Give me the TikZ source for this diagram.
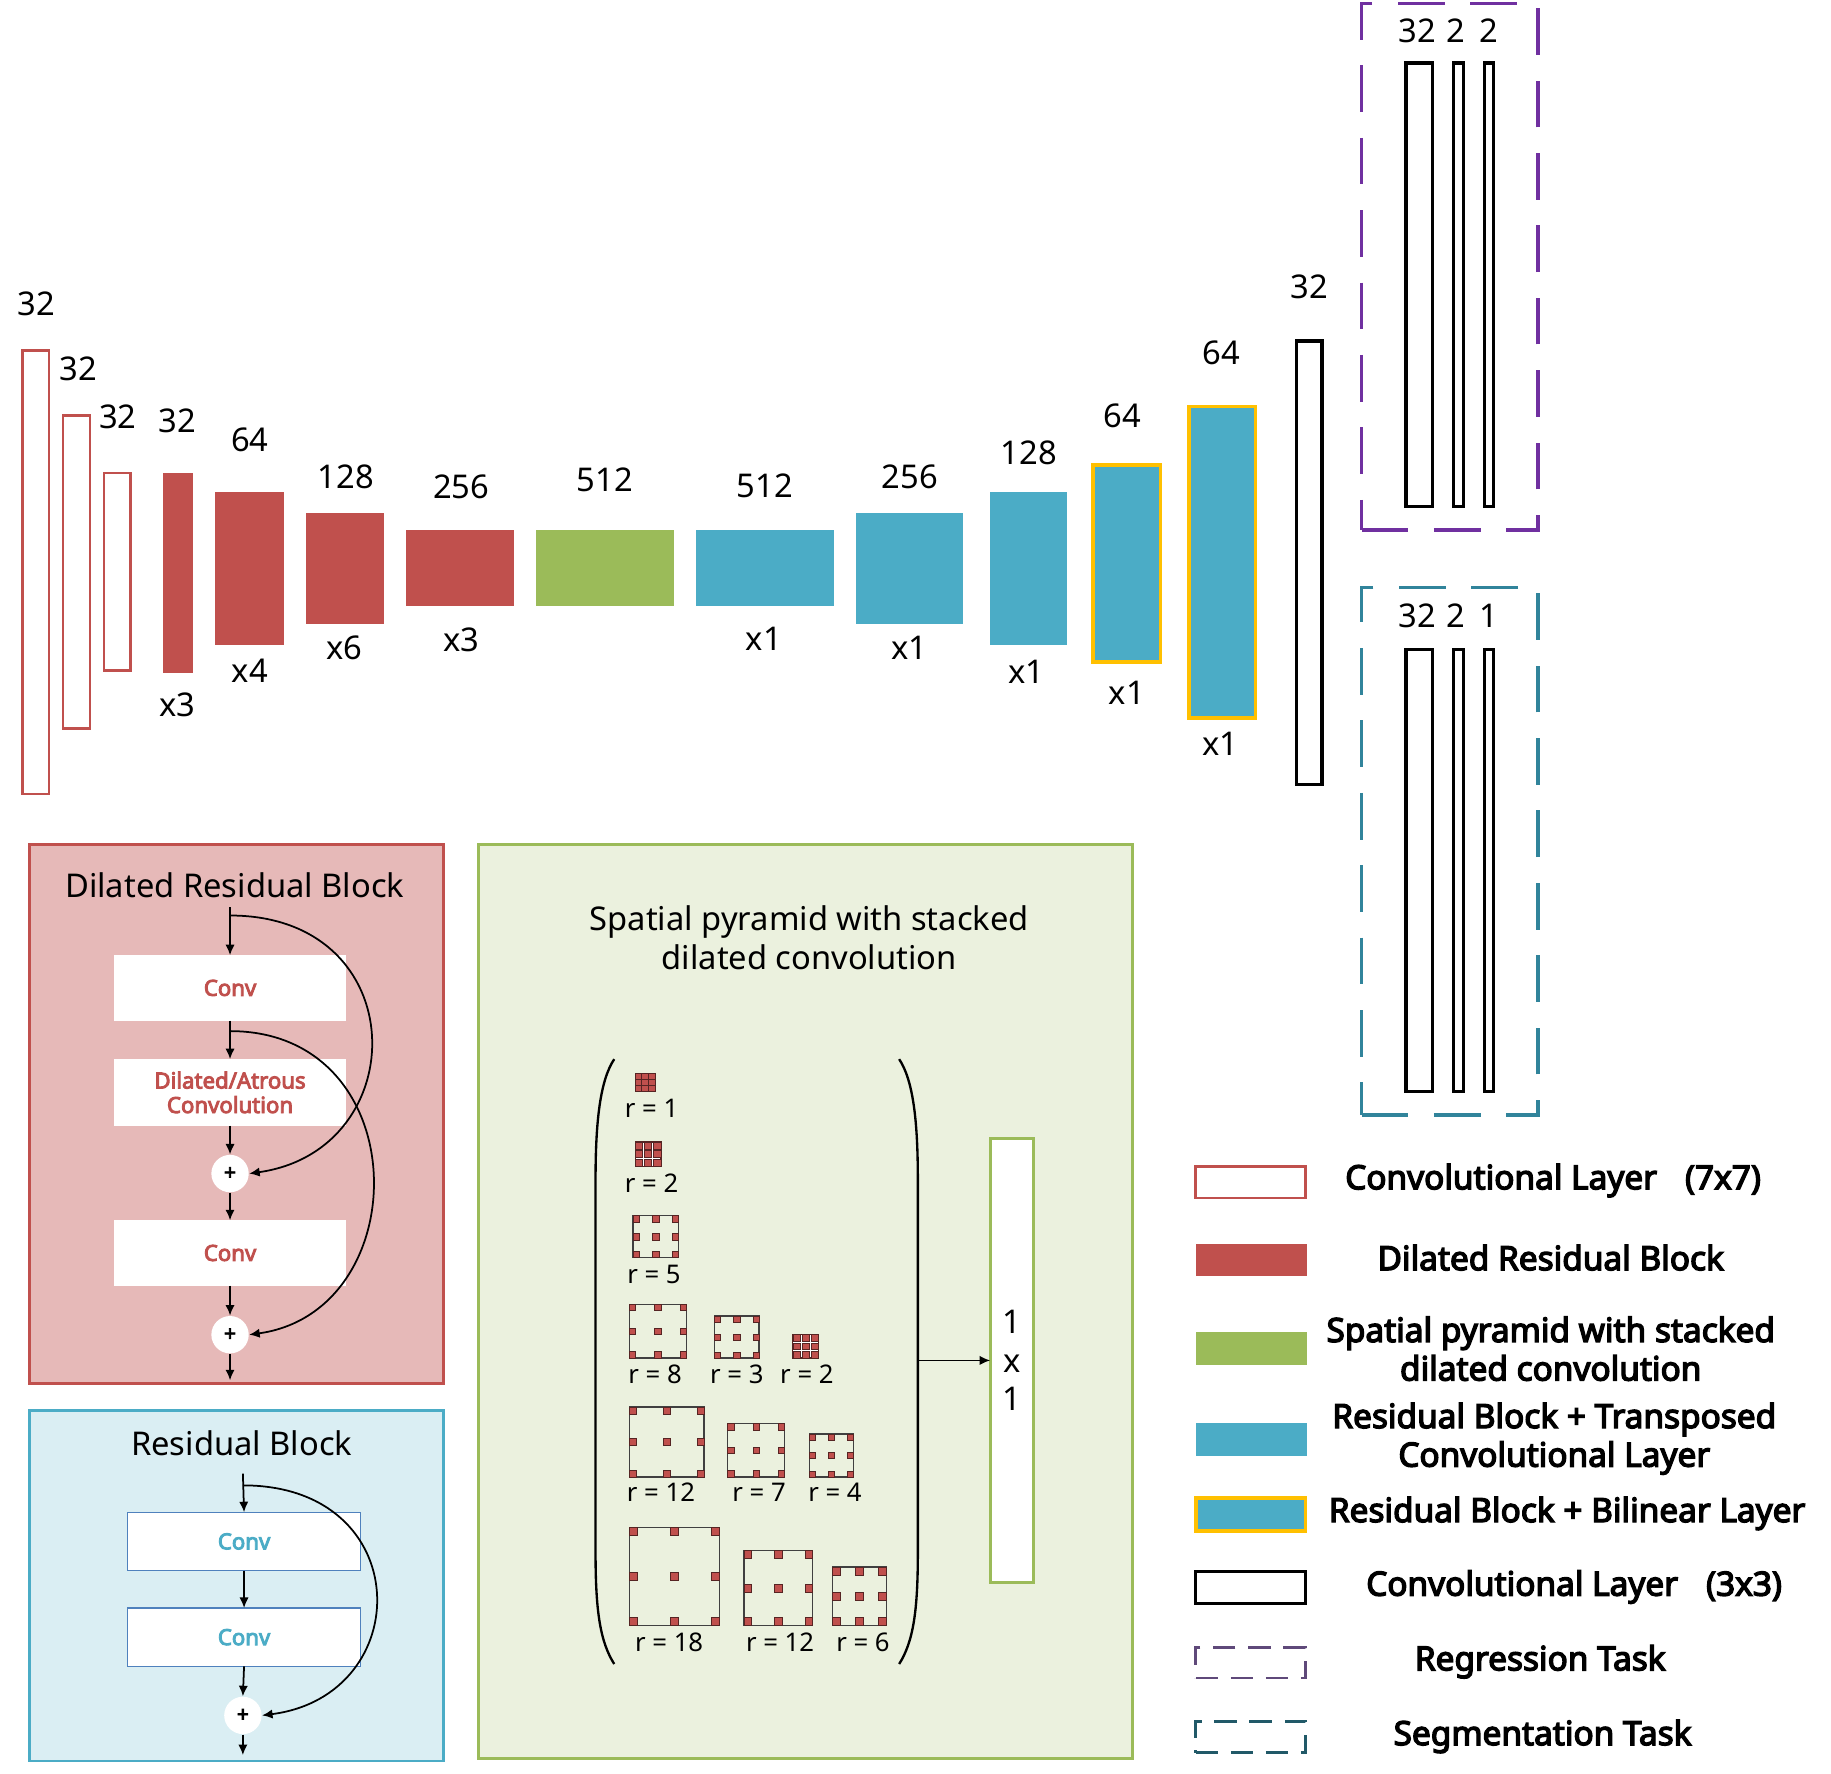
\documentclass[tikz,border=0pt]{standalone}
\usepackage{fontspec}
\setmainfont{Noto Sans}[AutoFakeBold=4]
\usetikzlibrary{arrows.meta}
\definecolor{cred}{HTML}{C0504D}
\definecolor{cpink}{HTML}{E6B9B8}
\definecolor{cgreen}{HTML}{9BBB59}
\definecolor{cgreenbg}{HTML}{EBF1DE}
\definecolor{cblue}{HTML}{4BACC6}
\definecolor{cbluebg}{HTML}{DAEEF3}
\definecolor{cyellow}{HTML}{FFC000}
\definecolor{cpurple}{HTML}{7030A0}
\definecolor{cteal}{HTML}{31849B}
\definecolor{cpurplegray}{HTML}{5F497A}
\definecolor{cdarkteal}{HTML}{215968}
\definecolor{cconvblue}{HTML}{4F81BD}
% name, x1, y1, x2, y2, style, text
\newcommand{\blk}[7]{\node[#6, minimum width={(#4-#2)*0.5pt}, minimum height={(#5-#3)*0.5pt}] (#1) at ({(#2+#4)/2},{(#3+#5)/2}) {#7};}
% dilated kernel icon: name, x1, y1, x2, y2, dot size
\newcommand{\dilk}[6]{%
  \blk{#1}{#2}{#3}{#4}{#5}{kbox}{}
  \foreach \ii in {0,0.5,1}{\foreach \jj in {0,0.5,1}{%
    \path[kdot] ({#2+\ii*(#4-#2-#6)},{#3+\jj*(#5-#3-#6)}) rectangle ++(#6,#6);}}%
}
% dense kernel icon (r=1)
\newcommand{\densek}[5]{%
  \blk{#1}{#2}{#3}{#4}{#5}{box, fill=cred, draw=black!55!cred, line width=0.5pt}{}
  \foreach \ii in {1,2}{%
    \draw[black!55!cred, line width=0.4pt] ({#2+\ii*(#4-#2)/3},#3) -- ({#2+\ii*(#4-#2)/3},#5);
    \draw[black!55!cred, line width=0.4pt] (#2,{#3+\ii*(#5-#3)/3}) -- (#4,{#3+\ii*(#5-#3)/3});}%
}
% gapped kernel icon (r=2)
\newcommand{\gapk}[5]{%
  \blk{#1}{#2}{#3}{#4}{#5}{box, fill=white, draw=black!55!cred, line width=0.5pt}{}
  \foreach \ii in {0,1,2}{\foreach \jj in {0,1,2}{%
    \path[kdot] ({#2+\ii*((#4-#2)+1.5)/3},{#3+\jj*((#5-#3)+1.5)/3}) rectangle ++({((#4-#2)-3)/3},{((#5-#3)-3)/3});}}%
}
\begin{document}
\begin{tikzpicture}[x=0.5pt,y=-0.5pt,
  box/.style={rectangle, inner sep=0pt, outer sep=0pt},
  c7/.style={box, draw=cred, line width=1.2pt, fill=white},
  drb/.style={box, fill=cred},
  spp/.style={box, fill=cgreen},
  rbt/.style={box, fill=cblue},
  rbb/.style={box, fill=cblue, draw=cyellow, line width=1.5pt},
  c3/.style={box, draw=black, line width=1.4pt, fill=white},
  num/.style={font=\fontsize{14}{16}\selectfont, inner sep=0pt},
  ttl/.style={font=\fontsize{14}{16.5}\selectfont, inner sep=0pt, align=center},
  lgt/.style={font=\bfseries\fontsize{14.3}{16.5}\selectfont, inner sep=0pt, align=center},
  convr/.style={box, fill=white, text=cred, font=\bfseries\fontsize{9.5}{10.5}\selectfont, align=center},
  convb/.style={box, fill=white, draw=cconvblue, line width=0.5pt, text=cblue, font=\bfseries\fontsize{9.5}{10.5}\selectfont},
  plusc/.style={circle, fill=white, inner sep=0pt, minimum size=16pt, font=\bfseries\fontsize{9}{9}\selectfont},
  arr/.style={-{Latex[length=4.5pt,width=4pt]}, line width=0.75pt, black},
  rl/.style={font=\fontsize{11}{13}\selectfont, inner sep=0pt},
  kbox/.style={box, draw=black!75, line width=0.6pt},
  kdot/.style={fill=cred, draw=black!55!cred, line width=0.3pt},
  taskreg/.style={box, draw=cpurple, line width=1.5pt, dash pattern=on 20pt off 11pt},
  taskseg/.style={box, draw=cteal, line width=1.5pt, dash pattern=on 20pt off 11pt},
  lgreg/.style={box, draw=cpurplegray, line width=1.1pt, dash pattern=on 9.5pt off 5.5pt},
  lgseg/.style={box, draw=cdarkteal, line width=1.1pt, dash pattern=on 9.5pt off 5.5pt},
]
\useasboundingbox (0,0) rectangle (1568,1519);
\fill[white] (0,0) rectangle (1568,1519);

% ---------------- top row ----------------
\blk{b1}{19}{300}{42}{680}{c7}{}
\blk{b2}{54}{356}{77}{624}{c7}{}
\blk{b3}{89}{405}{112}{574}{c7}{}
\blk{b4}{140}{405}{165}{576}{drb}{}
\blk{b5}{184}{421}{243}{552}{drb}{}
\blk{b6}{262}{439}{329}{534}{drb}{}
\blk{b7}{348}{454}{440}{519}{drb}{}
\blk{b8}{459}{454}{577}{519}{spp}{}
\blk{b9}{596}{454}{714}{519}{rbt}{}
\blk{b10}{733}{439}{825}{534}{rbt}{}
\blk{b11}{848}{421}{914}{552}{rbt}{}
\blk{b12}{936}{398}{994}{567}{rbb}{}
\blk{b13}{1018}{348}{1075}{615}{rbb}{}
\blk{b14}{1110}{292}{1132}{672}{c3}{}

\node[num] (t1) at (31,260) {32};
\node[num] (t2) at (67,316) {32};
\node[num] (t3) at (101,357) {32};
\node[num] (t4) at (152,360) {32};
\node[num] (t5) at (214,377) {64};
\node[num] (t6) at (296,408) {128};
\node[num] (t7) at (395,417) {256};
\node[num] (t8) at (518,411) {512};
\node[num] (t9) at (655,416) {512};
\node[num] (t10) at (779,408) {256};
\node[num] (t11) at (881,388) {128};
\node[num] (t12) at (961,356) {64};
\node[num] (t13) at (1046,302) {64};
\node[num] (t14) at (1121,246) {32};

\node[num] (m4) at (152,604) {x3};
\node[num] (m5) at (214,574) {x4};
\node[num] (m6) at (295,555) {x6};
\node[num] (m7) at (395,548) {x3};
\node[num] (m9) at (654,547) {x1};
\node[num] (m10) at (779,555) {x1};
\node[num] (m11) at (879,575) {x1};
\node[num] (m12) at (965,593) {x1};
\node[num] (m13) at (1045,637) {x1};

% ---------------- task heads ----------------
\blk{reg}{1166}{3}{1317}{454}{taskreg}{}
\blk{rg1}{1204}{54}{1227}{434}{c3}{}
\blk{rg2}{1245}{54}{1253}{434}{c3}{}
\blk{rg3}{1271}{54}{1279}{434}{c3}{}
\node[num] (rgl1) at (1214,26) {32};
\node[num] (rgl2) at (1247,26) {2};
\node[num] (rgl3) at (1275,26) {2};

\blk{seg}{1166}{503}{1317}{955}{taskseg}{}
\blk{sg1}{1204}{556}{1227}{935}{c3}{}
\blk{sg2}{1245}{556}{1253}{935}{c3}{}
\blk{sg3}{1271}{556}{1279}{935}{c3}{}
\node[num] (sgl1) at (1214,527) {32};
\node[num] (sgl2) at (1247,527) {2};
\node[num] (sgl3) at (1275,527) {1};

% ---------------- dilated residual block panel ----------------
\blk{drbp}{25}{723}{380}{1185}{box, fill=cpink, draw=cred, line width=1.2pt}{}
\node[ttl] (drbt) at (201,758) {Dilated Residual Block};
\blk{dc1}{98}{818}{296}{874}{convr}{Conv}
\blk{dc2}{98}{907}{296}{964}{convr}{Dilated/Atrous\\Convolution}
\node[plusc] (p1) at (197,1005) {+};
\blk{dc3}{98}{1045}{296}{1101}{convr}{Conv}
\node[plusc] (p2) at (197,1143) {+};
\coordinate (din) at (197,777);
\coordinate (dout) at (197,1182);
\coordinate (s1) at (197,784);
\coordinate (s2) at (197,883);
\draw[arr] (din) -- (dc1.north);
\draw[arr] (dc1.south) -- (dc2.north);
\draw[arr] (dc2.south) -- (p1.north);
\draw[arr] (p1.south) -- (dc3.north);
\draw[arr] (dc3.south) -- (p2.north);
\draw[arr] (p2.south) -- (dout);
\draw[arr] (s1) .. controls (355,784) and (355,985) .. (p1.east);
\draw[arr] (s2) .. controls (357,883) and (357,1123) .. (p2.east);

% ---------------- residual block panel ----------------
\blk{rbp}{25}{1208}{380}{1508}{box, fill=cbluebg, draw=cblue, line width=1.2pt}{}
\node[ttl] (rbtl) at (207,1236) {Residual Block};
\blk{rc1}{109}{1295}{309}{1345}{convb}{Conv}
\blk{rc2}{109}{1377}{309}{1427}{convb}{Conv}
\node[plusc] (p3) at (208,1469) {+};
\coordinate (rin) at (208,1262);
\coordinate (rout) at (208,1503);
\coordinate (s3) at (208,1272);
\draw[arr] (rin) -- (rc1.north);
\draw[arr] (rc1.south) -- (rc2.north);
\draw[arr] (rc2.south) -- (p3.north);
\draw[arr] (p3.south) -- (rout);
\draw[arr] (s3) .. controls (357,1272) and (357,1452) .. (p3.east);

% ---------------- spatial pyramid panel ----------------
\blk{spp}{410}{723}{970}{1506}{box, fill=cgreenbg, draw=cgreen, line width=1.2pt}{}
\node[ttl] (sppt) at (693,803) {Spatial pyramid with stacked\\dilated convolution};
\draw[line width=1pt] (526,907) .. controls (514,925) and (510,960) .. (510,1010) -- (510,1330) .. controls (510,1380) and (514,1406) .. (526,1425);
\draw[line width=1pt] (770,907) .. controls (782,925) and (786,960) .. (786,1010) -- (786,1330) .. controls (786,1380) and (782,1406) .. (770,1425);
\blk{onebar}{848}{975}{885}{1355}{box, fill=white, draw=cgreen, line width=1.2pt, align=center, font=\fontsize{14}{16.5}\selectfont}{1\\x\\1}
\coordinate (pright) at (786,1165);
\draw[arr] (pright) -- (onebar.west);

\densek{k1}{544}{919}{561}{935}
\node[rl] (kl1) at (558,949) {r = 1};
\gapk{k2}{544}{978}{566}{999}
\node[rl] (kl2) at (558,1013) {r = 2};
\dilk{k5}{542}{1041}{581}{1077}{5.6}
\node[rl] (kl5) at (560,1091) {r = 5};

\dilk{k8}{539}{1117}{588}{1163}{5.5}
\node[rl] (kl8) at (561,1177) {r = 8};
\dilk{k3}{612}{1127}{650}{1163}{5.2}
\node[rl] (kl3) at (631,1177) {r = 3};
\gapk{k2b}{679}{1143}{701}{1163}
\node[rl] (kl2b) at (691,1177) {r = 2};

\dilk{k12}{539}{1205}{603}{1265}{6}
\node[rl] (kl12) at (566,1278) {r = 12};
\dilk{k7}{623}{1219}{672}{1265}{5.5}
\node[rl] (kl7) at (650,1278) {r = 7};
\dilk{k4}{693}{1228}{731}{1265}{5.2}
\node[rl] (kl4) at (715,1278) {r = 4};

\dilk{k18}{539}{1308}{616}{1392}{7.2}
\node[rl] (kl18) at (573,1406) {r = 18};
\dilk{k12b}{637}{1328}{696}{1392}{6.7}
\node[rl] (kl12b) at (668,1406) {r = 12};
\dilk{k6}{713}{1342}{759}{1392}{6.7}
\node[rl] (kl6) at (739,1406) {r = 6};

% ---------------- legend ----------------
\blk{lg1}{1024}{999}{1118}{1026}{box, draw=cred, line width=1.1pt, fill=white}{}
\node[lgt] (lt1) at (1330,1011) {Convolutional Layer\hspace{12pt}(7x7)};
\blk{lg2}{1024}{1065}{1119}{1093}{drb}{}
\node[lgt] (lt2) at (1328,1077) {Dilated Residual Block};
\blk{lg3}{1024}{1141}{1119}{1169}{spp}{}
\node[lgt] (lt3) at (1328,1155) {Spatial pyramid with stacked\\dilated convolution};
\blk{lg4}{1024}{1219}{1119}{1247}{rbt}{}
\node[lgt] (lt4) at (1331,1232) {Residual Block + Transposed\\Convolutional Layer};
\blk{lg5}{1024}{1283}{1118}{1311}{rbb}{}
\node[lgt] (lt5) at (1342,1296) {Residual Block + Bilinear Layer};
\blk{lg6}{1024}{1346}{1118}{1373}{box, draw=black, line width=1.2pt, fill=white}{}
\node[lgt] (lt6) at (1348,1359) {Convolutional Layer\hspace{12pt}(3x3)};
\blk{lg7}{1024}{1411}{1118}{1437}{lgreg}{}
\node[lgt] (lt7) at (1319,1423) {Regression Task};
\blk{lg8}{1024}{1474}{1118}{1501}{lgseg}{}
\node[lgt] (lt8) at (1321,1487) {Segmentation Task};
\end{tikzpicture}
\end{document}
